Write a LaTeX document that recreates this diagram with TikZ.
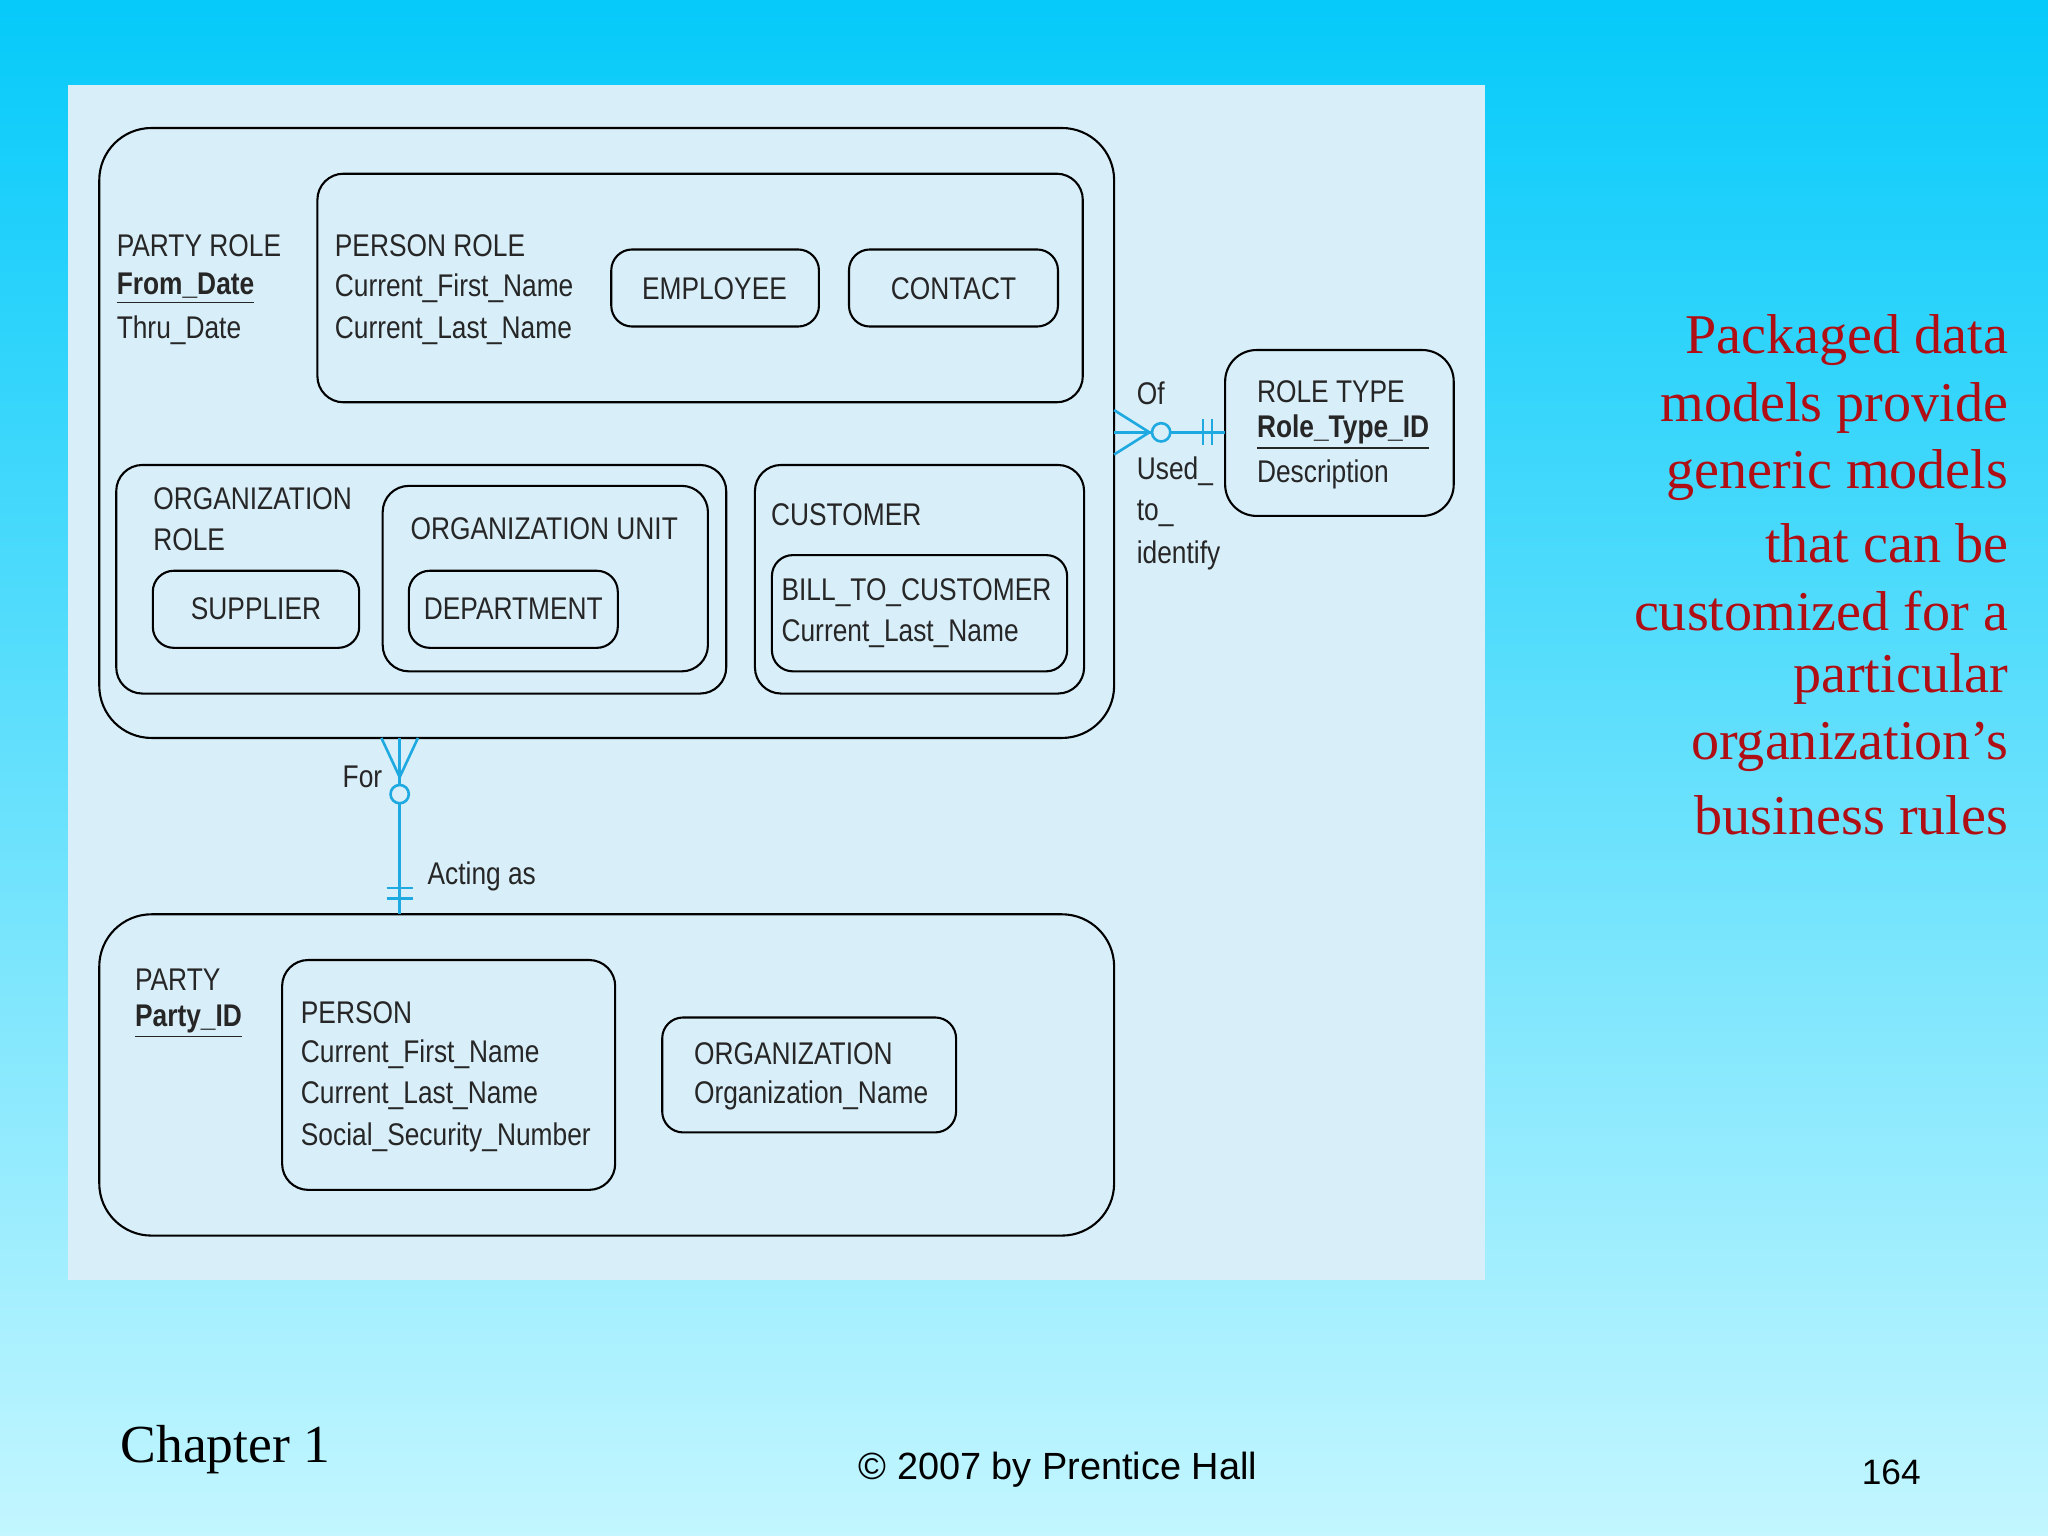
\documentclass[tikz,border=0pt]{standalone}
\usepackage{fontspec}
\setmainfont{Liberation Serif}
\newfontfamily\dg[FakeStretch=0.84]{Liberation Sans}
\newfontfamily\lsans{Liberation Sans}
\definecolor{bgtop}{RGB}{5,202,250}
\definecolor{bgbot}{RGB}{195,246,255}
\definecolor{panel}{RGB}{216,238,249}
\definecolor{relc}{RGB}{30,170,225}
\definecolor{sidec}{RGB}{175,15,20}
\begin{document}
\begin{tikzpicture}[x=0.5pt,y=-0.5pt,
 box/.style={draw=black,line width=0.8pt,rounded corners=#1},
 t/.style={anchor=west,inner sep=0,font=\dg\fontsize{12}{14}\selectfont,text=black!85},
 rel/.style={draw=relc,line width=1pt},
 side/.style={anchor=east,inner sep=0,font=\fontsize{21.5}{24}\selectfont,text=sidec}]
\useasboundingbox (0,0) rectangle (1568,1176);
\shade[top color=bgtop, bottom color=bgbot] (0,0) rectangle (1568,1176);
\fill[panel] (52,65) rectangle (1137,980);
% boxes
\draw[box=20pt] (76,98) rectangle (853,565);
\draw[box=10pt] (243,133) rectangle (829,308);
\draw[box=8pt] (468,191) rectangle (627,250);
\draw[box=8pt] (650,191) rectangle (810,250);
\draw[box=10pt] (89,356) rectangle (556,531);
\draw[box=10pt] (293,372) rectangle (542,514);
\draw[box=8pt] (117,437) rectangle (275,496);
\draw[box=8pt] (313,437) rectangle (473,496);
\draw[box=10pt] (578,356) rectangle (830,531);
\draw[box=8pt] (591,425) rectangle (817,514);
\draw[box=12pt] (938,268) rectangle (1113,395);
\draw[box=20pt] (76,700) rectangle (853,946);
\draw[box=10pt] (216,735) rectangle (471,911);
\draw[box=8pt] (507,779) rectangle (732,867);
% texts
\node[t] at (89,188) {PARTY ROLE};
\node[t] at (89,221) {\textbf{\underline{From\_Date}}};
\node[t] at (89,253) {Thru\_Date};
\node[t] at (256,188) {PERSON ROLE};
\node[t] at (256,221) {Current\_First\_Name};
\node[t] at (256,253) {Current\_Last\_Name};
\node[t,anchor=center] at (547,221) {EMPLOYEE};
\node[t,anchor=center] at (730,221) {CONTACT};
\node[t] at (117,382) {ORGANIZATION};
\node[t] at (117,413) {ROLE};
\node[t] at (314,405) {ORGANIZATION UNIT};
\node[t,anchor=center] at (196,466) {SUPPLIER};
\node[t,anchor=center] at (393,466) {DEPARTMENT};
\node[t] at (590,394) {CUSTOMER};
\node[t] at (598,454) {BILL\_TO\_CUSTOMER};
\node[t] at (598,485) {Current\_Last\_Name};
\node[t] at (962,300) {ROLE TYPE};
\node[t] at (962,331) {\textbf{\underline{Role\_Type\_ID}}};
\node[t] at (962,363) {Description};
\node[t] at (103,750) {PARTY};
\node[t] at (103,782) {\textbf{\underline{Party\_ID}}};
\node[t] at (230,775) {PERSON};
\node[t] at (230,807) {Current\_First\_Name};
\node[t] at (230,839) {Current\_Last\_Name};
\node[t] at (230,871) {Social\_Security\_Number};
\node[t] at (531,807) {ORGANIZATION};
\node[t] at (531,839) {Organization\_Name};
\node[t] at (870,301) {Of};
\node[t] at (870,361) {Used\_};
\node[t] at (870,393) {to\_};
\node[t] at (870,425) {identify};
\node[t] at (262,595) {For};
\node[t] at (327,671) {Acting as};
% relationships
\coordinate (a1) at (853,331); \coordinate (a2) at (938,331);
\draw[rel] (a1) -- (a2);
\draw[rel] (853,314) -- (880,331) -- (853,348);
\draw[rel,fill=panel] (889,331) circle (7);
\draw[rel] (921,321) -- (921,341) (928,321) -- (928,341);
\coordinate (b1) at (306,565); \coordinate (b2) at (306,700);
\draw[rel] (b1) -- (b2);
\draw[rel] (292,565) -- (306,595) -- (320,565);
\draw[rel,fill=panel] (306,608) circle (7);
\draw[rel] (296,680) -- (316,680) (296,688) -- (316,688);
% side text
\foreach \s [count=\i] in {Packaged data,models provide,generic models,that can be,customized for a,particular,organization’s,business rules}
  \node[side] at (1538,208+52*\i) {\s};
\node[anchor=west,inner sep=0,font=\fontsize{20.5}{22}\selectfont] at (92,1110) {Chapter 1};
\node[inner sep=0,font=\lsans\fontsize{14.5}{16}\selectfont] at (810,1125) {© 2007 by Prentice Hall};
\node[inner sep=0,font=\lsans\fontsize{13.5}{15}\selectfont] at (1448,1127) {164};
\end{tikzpicture}
\end{document}
